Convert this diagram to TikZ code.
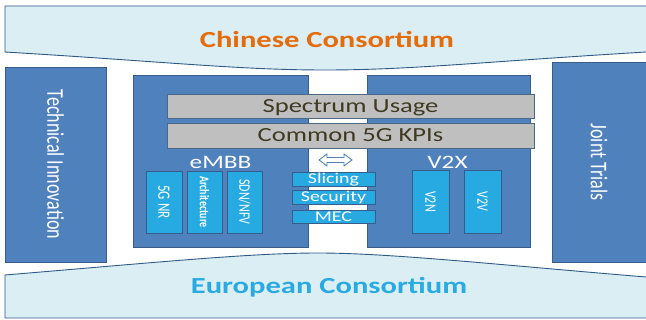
\documentclass[tikz,border=0pt]{standalone}
\usepackage{fontspec}
\usepackage{graphicx}
\setmainfont{Carlito}
\newfontfamily\wfont[FakeStretch=1.33]{Carlito}
\definecolor{boxblue}{HTML}{4F81BD}
\definecolor{boxedge}{HTML}{385D8A}
\definecolor{lightbox}{HTML}{27AAE1}
\definecolor{bannerfill}{HTML}{DBEEF4}
\definecolor{banneredge}{HTML}{2E5A87}
\definecolor{barfill}{HTML}{BFBFBF}
\definecolor{bartext}{HTML}{3F3A22}
\definecolor{orangetxt}{HTML}{E46C0A}
\definecolor{cyantxt}{HTML}{29ABE2}
\newcommand{\rtxt}[2]{\fontsize{#1}{#1}\selectfont\scalebox{1}[1.33]{#2}}
\tikzset{
  bigbox/.style={draw=boxedge, fill=boxblue, line width=0.8pt, inner sep=0pt},
  smallbox/.style={draw=boxedge, fill=lightbox, line width=0.8pt, inner sep=0pt, text=white},
  barbox/.style={draw=boxedge!70!gray, fill=barfill, line width=0.8pt, inner sep=0pt, text=bartext,
    font=\wfont\fontsize{20}{24}\selectfont, text height=12.9pt, text depth=0pt},
  midbox/.style={draw=boxedge, fill=lightbox, line width=0.8pt, inner sep=0pt, text=white,
    minimum width=83, font=\wfont\fontsize{15}{15}\selectfont, text height=9.7pt, text depth=0pt},
  banner/.style={fill=bannerfill},
  banneredgeline/.style={draw=banneredge, line width=0.9pt},
  headtxt/.style={text=white, font=\wfont\fontsize{19}{19}\selectfont, inner sep=0pt,
    text height=12.2pt, text depth=0pt},
  bantxt/.style={font=\wfont\bfseries\fontsize{23}{23}\selectfont, inner sep=0pt,
    text height=14.8pt, text depth=0pt}
}
\begin{document}
\begin{tikzpicture}[x=1pt,y=-1pt]
\useasboundingbox (0,0) rectangle (646,320);
% top banner
\path[banner] (5,6) -- (646,6) -- (646,52) .. controls (480,62) and (410,70) .. (325,70)
   .. controls (240,70) and (170,62) .. (5,52) -- cycle;
\path[banneredgeline] (646,6) -- (5,6) -- (5,52) .. controls (170,62) and (240,70) .. (325,70)
   .. controls (410,70) and (480,62) .. (646,52);
\node[bantxt, text=orangetxt] (cn) at (327,40) {Chinese Consortium};
% bottom banner
\path[banner] (5,318) -- (646,318) -- (646,277) .. controls (500,265) and (390,253) .. (318,253)
   .. controls (250,253) and (150,263) .. (5,275) -- cycle;
\path[banneredgeline] (646,318) -- (5,318) -- (5,275) .. controls (150,263) and (250,253) .. (318,253)
   .. controls (390,253) and (500,265) .. (646,277);
\node[bantxt, text=cyantxt] (eu) at (329,286) {European Consortium};
% side boxes
\node[bigbox, rotate=-90, minimum width=195, minimum height=101, text=white] (ti) at (55.5,164.5)
  {\rtxt{18}{Technical Innovation}};
\node[bigbox, rotate=-90, minimum width=200, minimum height=94, text=white] (jt) at (599,162)
  {\rtxt{18}{Joint Trials}};
% central boxes
\node[bigbox, minimum width=175, minimum height=172] (embb) at (220.5,161) {};
\node[bigbox, minimum width=163, minimum height=172] (v2x) at (448.5,161) {};
\node[barbox, minimum width=367, minimum height=24] (spec) at (350.5,106) {Spectrum Usage};
\node[barbox, minimum width=367, minimum height=25] (kpi) at (350.5,135.5) {Common 5G KPIs};
\node[headtxt] (embbl) at (220.5,162) {eMBB};
\node[headtxt] (v2xl) at (447.5,162) {V2X};
% eMBB sub boxes
\node[smallbox, rotate=-90, minimum width=62, minimum height=36] (nr) at (164,202) {\rtxt{13}{5G NR}};
\node[smallbox, rotate=-90, minimum width=62, minimum height=35] (arch) at (204.5,202) {\rtxt{10}{\bfseries Architecture}};
\node[smallbox, rotate=-90, minimum width=62, minimum height=35] (sdn) at (244.5,202) {\rtxt{12}{SDN/NFV}};
% V2X sub boxes
\node[smallbox, rotate=-90, minimum width=63, minimum height=37] (v2n) at (430.5,201.5) {\rtxt{12}{V2N}};
\node[smallbox, rotate=-90, minimum width=63, minimum height=37] (v2v) at (482.5,201.5) {\rtxt{12}{V2V}};
% middle
\node[midbox, minimum height=14] (sl) at (333.5,179) {Slicing};
\node[midbox, minimum height=14] (sec) at (333.5,197) {Security};
\node[midbox, minimum height=13] (mec) at (333.5,216.5) {MEC};
\coordinate (arr) at (335.5,160);
\draw[draw=boxblue, fill=white, line width=0.9pt, line join=miter]
  (319,160) -- (327,154) -- (327,157.5) -- (344,157.5) -- (344,154) -- (352,160)
  -- (344,166) -- (344,162.5) -- (327,162.5) -- (327,166) -- cycle;
\end{tikzpicture}
\end{document}
